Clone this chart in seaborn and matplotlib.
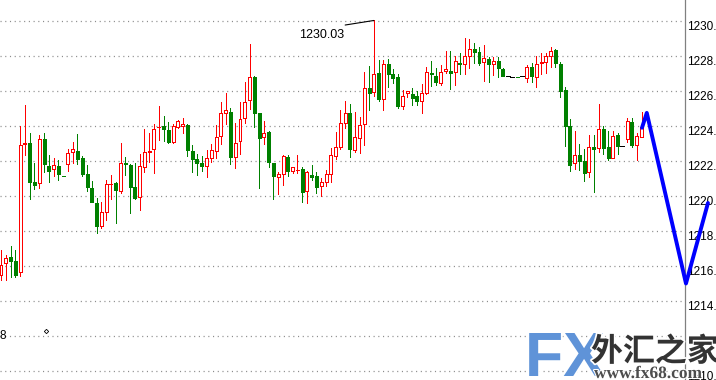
import matplotlib
matplotlib.use("Agg")
import matplotlib.pyplot as plt
import matplotlib.patheffects as pe
import numpy as np
import pandas as pd
import seaborn as sns

# ---------------- data ----------------
opens = [1215.5, 1216.17, 1216.51, 1216.29, 1215.66, 1223.0, 1223.03, 1220.8, 1220.74, 1223.26,
         1221.71, 1221.54, 1221.71, 1221.16, 1221.83, 1222.51, 1222.57, 1222.17, 1221.26, 1220.46,
         1219.6, 1218.29, 1219.09, 1220.66, 1220.74, 1220.29, 1221.89, 1221.77, 1220.51, 1219.94,
         1221.66, 1222.54, 1222.69, 1223.92, 1224.0, 1223.77, 1223.09, 1223.94, 1224.0, 1224.06,
         1222.57, 1222.11, 1221.89, 1221.71, 1222.17, 1222.57, 1223.43, 1224.74, 1224.8, 1222.23,
         1223.14, 1224.46, 1225.49, 1226.8, 1224.74, 1223.37, 1223.66, 1221.89, 1221.09, 1221.26,
         1222.23, 1221.43, 1221.46, 1221.54, 1220.29, 1221.2, 1221.14, 1220.57, 1220.8, 1221.26,
         1222.29, 1222.8, 1224.17, 1224.74, 1222.63, 1223.31, 1224.11, 1226.17, 1225.94, 1227.03,
         1225.54, 1227.54, 1226.97, 1226.8, 1225.14, 1225.89, 1225.83, 1225.71, 1225.43, 1225.89,
         1227.03, 1226.86, 1226.46, 1227.14, 1227.14, 1227.09, 1227.6, 1227.54, 1228.0, 1228.4,
         1228.23, 1227.66, 1227.83, 1227.54, 1227.71, 1227.26, 1226.86, 1226.8, 1226.82, 1226.83,
         1226.74, 1227.37, 1226.8, 1227.6, 1227.66, 1228.0, 1228.34, 1227.54, 1226.06, 1224.0,
         1221.89, 1222.34, 1222.0, 1221.37, 1222.8, 1222.74, 1223.83, 1222.8, 1222.17, 1223.49,
         1222.86, 1223.26, 1224.23, 1222.91, 1223.37]
highs = [1216.9, 1216.63, 1217.14, 1216.91, 1224.0, 1225.2, 1223.6, 1221.89, 1223.49, 1223.6,
         1222.34, 1222.17, 1222.06, 1221.16, 1222.69, 1223.09, 1223.54, 1222.29, 1221.77, 1220.86,
         1219.89, 1219.66, 1220.91, 1221.2, 1220.8, 1223.03, 1222.23, 1221.83, 1221.89, 1222.4,
         1223.83, 1223.6, 1224.11, 1225.14, 1224.57, 1224.23, 1224.11, 1224.34, 1224.46, 1224.11,
         1222.91, 1222.4, 1222.29, 1222.63, 1222.97, 1224.06, 1225.37, 1225.89, 1225.03, 1224.17,
         1225.37, 1226.51, 1228.69, 1226.86, 1224.74, 1224.29, 1223.71, 1221.89, 1221.37, 1222.34,
         1222.34, 1221.66, 1222.34, 1221.66, 1221.43, 1221.77, 1221.37, 1221.03, 1221.49, 1222.74,
         1223.66, 1224.91, 1225.43, 1225.26, 1224.8, 1224.51, 1227.09, 1227.43, 1230.03, 1227.77,
         1227.77, 1227.83, 1227.26, 1226.97, 1226.06, 1226.0, 1226.17, 1226.0, 1226.4, 1227.37,
         1227.71, 1227.31, 1227.49, 1228.29, 1228.29, 1228.0, 1228.17, 1229.03, 1228.97, 1228.74,
         1228.51, 1228.63, 1227.94, 1227.94, 1227.94, 1227.31, 1226.86, 1226.8, 1226.82, 1226.83,
         1227.49, 1227.6, 1228.0, 1228.17, 1228.17, 1228.51, 1228.4, 1227.66, 1226.23, 1224.4,
         1223.71, 1222.97, 1222.69, 1223.49, 1223.49, 1225.26, 1224.0, 1223.71, 1223.71, 1223.6,
         1222.86, 1224.46, 1224.46, 1223.6, 1224.8]
lows = [1215.2, 1215.2, 1215.37, 1215.37, 1215.43, 1222.34, 1219.83, 1220.4, 1220.46, 1221.37,
        1220.8, 1221.14, 1220.91, 1221.12, 1221.43, 1221.89, 1221.83, 1221.14, 1220.29, 1219.66,
        1217.89, 1218.17, 1218.63, 1219.83, 1218.46, 1220.17, 1221.2, 1219.03, 1219.83, 1219.2,
        1221.37, 1221.94, 1221.31, 1223.2, 1223.14, 1223.03, 1223.03, 1223.89, 1223.6, 1222.29,
        1221.37, 1221.2, 1221.43, 1221.09, 1221.94, 1222.17, 1222.97, 1224.11, 1221.83, 1221.6,
        1222.4, 1224.17, 1224.97, 1223.94, 1220.46, 1222.97, 1221.66, 1219.83, 1220.11, 1220.63,
        1221.14, 1221.31, 1221.31, 1219.66, 1219.6, 1220.91, 1220.17, 1220.0, 1220.57, 1220.8,
        1222.11, 1222.69, 1223.89, 1222.23, 1222.51, 1222.46, 1222.91, 1224.91, 1225.71, 1225.43,
        1224.91, 1226.23, 1226.46, 1225.03, 1224.97, 1225.66, 1225.2, 1225.2, 1224.74, 1225.83,
        1226.29, 1226.34, 1226.34, 1227.03, 1226.11, 1226.34, 1226.97, 1226.97, 1227.31, 1227.6,
        1227.49, 1226.57, 1226.51, 1226.91, 1226.8, 1226.86, 1226.86, 1226.8, 1226.78, 1226.83,
        1226.51, 1226.51, 1226.23, 1226.97, 1227.03, 1227.37, 1227.37, 1225.66, 1222.86, 1221.43,
        1221.54, 1221.49, 1220.86, 1221.09, 1220.23, 1222.51, 1222.4, 1222.06, 1222.17, 1222.4,
        1222.86, 1223.09, 1222.8, 1222.06, 1223.37]
closes = [1216.06, 1216.46, 1216.29, 1215.49, 1222.91, 1223.05, 1220.8, 1220.63, 1223.26, 1221.83,
          1221.43, 1221.77, 1221.26, 1221.12, 1222.46, 1222.69, 1222.11, 1221.26, 1220.51, 1219.66,
          1218.29, 1219.09, 1220.69, 1220.71, 1220.34, 1221.89, 1221.83, 1220.51, 1219.89, 1221.71,
          1222.51, 1222.6, 1223.83, 1223.96, 1223.83, 1223.09, 1224.0, 1224.29, 1224.11, 1222.63,
          1222.11, 1221.89, 1221.71, 1222.17, 1222.63, 1223.37, 1224.74, 1224.91, 1222.23, 1223.03,
          1224.4, 1225.37, 1226.8, 1224.74, 1223.31, 1223.6, 1221.94, 1221.14, 1221.26, 1222.29,
          1221.43, 1221.66, 1221.49, 1220.23, 1221.37, 1221.09, 1220.51, 1220.8, 1221.26, 1222.34,
          1222.8, 1224.17, 1224.74, 1222.69, 1223.37, 1224.06, 1226.17, 1225.89, 1226.97, 1225.54,
          1227.54, 1226.97, 1226.74, 1225.14, 1225.71, 1226.0, 1225.6, 1225.43, 1225.89, 1227.09,
          1227.0, 1226.51, 1227.09, 1227.26, 1227.03, 1227.71, 1227.57, 1228.0, 1228.4, 1228.23,
          1227.6, 1227.89, 1227.54, 1227.71, 1227.31, 1226.86, 1226.86, 1226.8, 1226.78, 1226.83,
          1227.37, 1226.86, 1227.54, 1227.66, 1228.0, 1228.29, 1227.6, 1226.0, 1224.0, 1221.77,
          1222.34, 1222.0, 1221.31, 1222.8, 1222.69, 1223.83, 1222.74, 1222.17, 1223.43, 1222.86,
          1222.86, 1224.29, 1222.91, 1223.43, 1223.94]

price_ticks = [1210, 1212, 1214, 1216, 1218, 1220, 1222, 1224, 1226, 1228, 1230]
tick_labels = [f"{t:.2f}" for t in price_ticks]

# hand-drawn forecast line (bar index, price)
forecast_x = [134.1, 135.1, 143.3, 147.9]
forecast_y = [1223.9, 1224.75, 1215.0, 1219.6]

peak_label = "1230.03"
peak_index = 78
peak_value = 1230.03
leader_x = [72.0, 78.0]
leader_y = [1229.77, 1230.03]

edge_text = "8"
edge_text_price = 1212.0
marker_x = [9.5]
marker_y = [1212.29]

# ---------------- style ----------------
sns.set_style("white")
plt.rcParams['font.family'] = ['Liberation Sans', 'DejaVu Sans']
plt.rcParams['lines.scale_dashes'] = False

W, H = 716, 380
fig = plt.figure(figsize=(W / 100, H / 100), dpi=100)
axis_px = 684.5
ax = fig.add_axes([0, 0, axis_px / W, 1])

step = 4.78          # pixels per bar
x0 = 1.0             # pixel of first bar
ax.set_xlim(-x0 / step, (axis_px - x0) / step)
ax.set_ylim(1230 - 359 / 17.5, 1230 + 21 / 17.5)

df = pd.DataFrame({"o": opens, "h": highs, "l": lows, "c": closes})
df["x"] = np.arange(len(df))

RED, GREEN = "#ff0000", "#008000"
bw = 0.62
px = 0.72  # one pixel in points

up = df[df.c > df.o]
dn = df[df.c < df.o]
dj = df[df.c == df.o]

# wicks
ax.vlines(up.x, up.l, up.h, colors=RED, lw=px, zorder=2, antialiased=False)
ax.vlines(dn.x, dn.l, dn.h, colors=GREEN, lw=px, zorder=2, antialiased=False)
ax.vlines(dj.x, dj.l, dj.h, colors="black", lw=px, zorder=2, antialiased=False)

# bodies
ax.bar(up.x, up.c - up.o, bottom=up.o, width=bw, facecolor="white",
       edgecolor=RED, linewidth=px, zorder=3, antialiased=False)
ax.bar(dn.x, dn.o - dn.c, bottom=dn.c, width=bw, facecolor=GREEN,
       edgecolor=GREEN, linewidth=px, zorder=3, antialiased=False)
ax.hlines(dj.c, dj.x - 0.42, dj.x + 0.42, colors="black", lw=px, zorder=3,
          antialiased=False)

# forecast blue line
sns.lineplot(x=forecast_x, y=forecast_y, ax=ax, color="#0000ff", lw=2.8,
             sort=False, estimator=None, zorder=6)
for ln in ax.lines:
    ln.set_clip_on(False)

# peak annotation
ax.plot(leader_x, leader_y, color="black", lw=0.8, zorder=5)
ax.text(leader_x[0] - 0.1, peak_value - 1.0, peak_label, ha="right", va="baseline",
        fontsize=9, color="black", zorder=5)

# left-edge leftovers
ax.text(ax.get_xlim()[0], edge_text_price, edge_text, ha="left", va="center",
        fontsize=8.5, color="black")
ax.plot(marker_x, marker_y, marker="D", ms=2.2, mfc="white", mec="black",
        mew=0.6, ls="none")

# grid / axes
ax.set_yticks(price_ticks, tick_labels)
ax.yaxis.tick_right()
ax.tick_params(axis="y", length=0, pad=1.8, labelsize=8.5, labelcolor="black")
for lbl in ax.get_yticklabels():
    lbl.set_va("top")
ax.set_xticks([])
ax.grid(axis="y", color="#8c8c8c", lw=0.9, linestyle=(0, (0.8, 2.6)))
ax.grid(axis="x", visible=False)
for s in ["left", "top", "bottom"]:
    ax.spines[s].set_visible(False)
ax.spines["right"].set_color("#808080")
ax.spines["right"].set_linewidth(0.9)
ax.set_facecolor("white")

# watermark
stroke = [pe.withStroke(linewidth=2.5, foreground="white")]
fig.text(525 / W, 1 - 376 / H, "FX", fontsize=45, fontweight="bold",
         color="#5f93d8", family=["Liberation Sans Narrow", "Liberation Sans"],
         va="baseline", ha="left", path_effects=stroke, zorder=10)
fig.text(591 / W, 1 - 361 / H, "外汇之家", fontsize=23, fontweight="bold",
         color="#333333", family=["Noto Sans CJK SC"], va="baseline", ha="left",
         path_effects=stroke, zorder=10)
fig.text(594 / W, 1 - 378 / H, "www.fx68.com", fontsize=12.5, fontweight="bold",
         color="#4d4d4d", family=["Liberation Serif"], va="baseline", ha="left",
         path_effects=[pe.withStroke(linewidth=1.5, foreground="white")], zorder=10)

fig.savefig("out.png", dpi=100, facecolor="white")
